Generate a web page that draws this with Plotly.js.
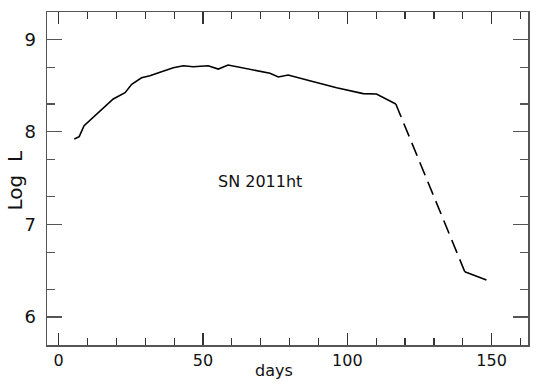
<!DOCTYPE html>
<html>
<head>
<meta charset="utf-8">
<script src="https://cdn.plot.ly/plotly-3.0.1.min.js"></script>
<style>
  html, body { margin: 0; padding: 0; background: #fff; }
  #graficPlotly { width: 545px; height: 389px; }
</style>
</head>
<body>
<div id="graficPlotly"></div>
<script>
// corba de llum SN 2011ht: tram observat (continu), tram interpolat (discontinu) i cua final
var dies = [5.4, 7.1, 8.8, 18.9, 23.0, 25.3, 28.7, 31.6, 35.1, 38.6, 39.7, 43.2, 46.6, 51.8, 55.3, 58.7, 65.7, 73.2, 76.1, 79.5, 87.0, 96.3, 105.5, 110.1, 116.8];
var logL = [7.923, 7.948, 8.067, 8.355, 8.423, 8.514, 8.585, 8.607, 8.644, 8.687, 8.693, 8.715, 8.704, 8.715, 8.679, 8.722, 8.676, 8.633, 8.593, 8.614, 8.553, 8.477, 8.413, 8.409, 8.301];

var diesSalt = [116.8, 140.7];
var logLSalt = [8.301, 6.490];

var diesCua = [140.7, 148.2];
var logLCua = [6.490, 6.401];

var etiquetaSN = "SN 2011ht";

// ticks menors a log(2) i log(5) de cada decada
var ticksMenorsY = [];
[5, 6, 7, 8, 9].forEach(function (n) {
    ticksMenorsY.push(n + Math.log10(2));
    ticksMenorsY.push(n + Math.log10(5));
});

var font = "DejaVu Sans, Verdana, sans-serif";
var colorEix = "#555";

var continu = {x: dies, y: logL, mode: 'lines', type: 'scatter', line: {color: 'black', width: 1.6}, showlegend: false};
var salt = {x: diesSalt, y: logLSalt, mode: 'lines', type: 'scatter', line: {color: 'black', width: 1.6, dash: '14px,7px'}, showlegend: false};
var cua = {x: diesCua, y: logLCua, mode: 'lines', type: 'scatter', line: {color: 'black', width: 1.6}, showlegend: false};

var layout = {
    width: 545,
    height: 389,
    margin: {l: 47, r: 17, t: 12, b: 44},
    paper_bgcolor: 'white',
    plot_bgcolor: 'white',
    font: {family: font, color: '#111', size: 16},
    xaxis: {
        range: [-4.05, 162.6],
        showgrid: false, zeroline: false,
        showline: true, linecolor: colorEix, linewidth: 1.5, mirror: 'ticks',
        tickmode: 'array', tickvals: [0, 50, 100, 150],
        ticks: 'inside', ticklen: 12, tickcolor: '#333', tickwidth: 1.2,
        minor: {dtick: 10, tick0: 0, ticks: 'inside', ticklen: 7, tickcolor: '#333', tickwidth: 1.2},
        tickfont: {size: 16, family: font}
    },
    yaxis: {
        range: [5.698, 9.295],
        showgrid: false, zeroline: false,
        showline: true, linecolor: colorEix, linewidth: 1.5, mirror: 'ticks',
        tickmode: 'array', tickvals: [6, 7, 8, 9],
        ticks: 'inside', ticklen: 15, tickcolor: colorEix, tickwidth: 1.2,
        ticklabelstandoff: 6,
        minor: {tickmode: 'array', tickvals: ticksMenorsY, ticks: 'inside', ticklen: 8, tickcolor: colorEix, tickwidth: 1.2},
        tickfont: {size: 18, family: font}
    },
    annotations: [
        {x: 69.6, y: 7.467, xref: 'x', yref: 'y', text: etiquetaSN, showarrow: false, font: {size: 16, family: font}},
        {x: 274, y: 370, xref: 'paper', yref: 'paper', xanchor: 'center', yanchor: 'middle', text: 'days', showarrow: false, font: {size: 16, family: font}},
        {x: 14.5, y: 181, xref: 'paper', yref: 'paper', xanchor: 'center', yanchor: 'middle', text: 'Log  L', textangle: -90, showarrow: false, font: {size: 20, family: font}}
    ]
};

// passo les anotacions en pixels a coordenades de paper
var amplePlot = 545 - 47 - 17;
var altPlot = 389 - 12 - 44;
for (var k = 1; k < 3; ++k) {
    var a = layout.annotations[k];
    a.x = (a.x - 47) / amplePlot;
    a.y = 1 - (a.y - 12) / altPlot;
}

Plotly.newPlot('graficPlotly', [continu, salt, cua], layout, {staticPlot: true});
</script>
</body>
</html>
